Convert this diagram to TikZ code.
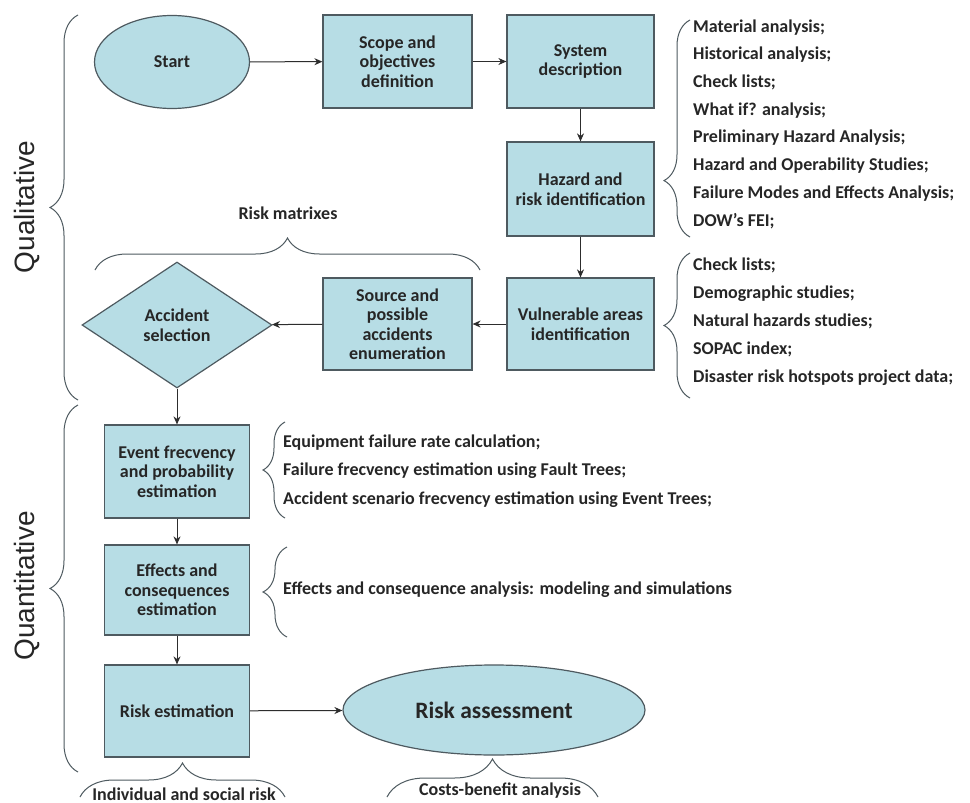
\documentclass[tikz,border=0pt]{standalone}
\usepackage{fontspec}
\setmainfont{Carlito}
\newfontfamily\arialf{Liberation Sans}
\usetikzlibrary{shapes.geometric,arrows.meta,decorations.pathreplacing}
\definecolor{boxfill}{RGB}{183,221,229}
\definecolor{boxline}{RGB}{78,90,96}
\definecolor{arrline}{RGB}{45,45,45}
\definecolor{txt}{RGB}{38,38,38}
\tikzset{
  box/.style={rectangle, draw=boxline, fill=boxfill, line width=1.2pt, align=center, inner sep=2pt, text=txt},
  ell/.style={ellipse, draw=boxline, fill=boxfill, line width=1.2pt, align=center, inner sep=0pt, text=txt},
  dia/.style={diamond, draw=boxline, fill=boxfill, line width=1.2pt, align=center, inner sep=0pt, text=txt},
  arr/.style={draw=arrline, line width=1pt, -{Stealth[length=8pt,width=7pt]}},
  brc/.style={draw=boxline, line width=1pt, decorate},
  lst/.style={anchor=west, align=left, text=txt, inner sep=0pt},
  side/.style={rotate=90, text=txt, font=\arialf\fontsize{28}{30}\selectfont}
}
\begin{document}
\begin{tikzpicture}[x=1pt, y=-1pt, font=\bfseries\fontsize{18}{19.5}\selectfont]
\useasboundingbox[fill=white] (0,0) rectangle (970,803);

% flow nodes
\node[ell, minimum width=155pt, minimum height=93pt] (start) at (172,62) {Start};
\node[box, minimum width=149pt, minimum height=93pt] (scope) at (397.5,61.5) {Scope and\\objectives\\definition};
\node[box, minimum width=147pt, minimum height=93pt] (sys) at (580.5,61.5) {System\\description};
\node[box, minimum width=147pt, minimum height=94pt] (haz) at (580.5,189) {Hazard and\\risk identification};
\node[box, minimum width=147pt, minimum height=92pt] (vul) at (580.5,324) {Vulnerable areas\\identification};
\node[box, minimum width=149pt, minimum height=92pt] (src) at (397.5,324) {Source and\\possible\\accidents\\enumeration};
\node[dia, minimum width=190pt, minimum height=126pt] (acc) at (177,325) {Accident\\selection};
\node[box, minimum width=145pt, minimum height=93pt] (evt) at (177,471.5) {Event frecvency\\and probability\\estimation};
\node[box, minimum width=145pt, minimum height=90pt] (eff) at (177,590) {Effects and\\consequences\\estimation};
\node[box, minimum width=145pt, minimum height=92pt] (rest) at (177,711) {Risk estimation};
\node[ell, minimum width=302pt, minimum height=90pt, font=\bfseries\fontsize{23.5}{28}\selectfont] (rass) at (494,710) {Risk assessment};

% connectors
\draw[arr] (start) -- (scope);
\draw[arr] (scope) -- (sys);
\draw[arr] (sys) -- (haz);
\draw[arr] (haz) -- (vul);
\draw[arr] (vul) -- (src);
\draw[arr] (src) -- (acc);
\draw[arr] (acc) -- (evt);
\draw[arr] (evt) -- (eff);
\draw[arr] (eff) -- (rest);
\draw[arr] (rest) -- (rass);

% side labels and braces
\node[side] (qual) at (27,207) {Qualitative};
\node[side] (quant) at (27,586) {Quantitative};
\draw[brc, decoration={brace, amplitude=28pt}] (78,400) -- (78,15);
\draw[brc, decoration={brace, amplitude=28pt}] (78,772) -- (78,405);

% hazard identification methods
\draw[brc, decoration={brace, amplitude=26pt, aspect=0.26}] (690,237) -- (690,20);
\node[lst, font=\bfseries\fontsize{18}{27.7}\selectfont] (hlist) at (693,124) {Material analysis;\\Historical analysis;\\Check lists;\\What if? analysis;\\Preliminary Hazard Analysis;\\Hazard and Operability Studies;\\Failure Modes and Effects Analysis;\\DOW's FEI;};

% vulnerable areas methods
\draw[brc, decoration={brace, amplitude=26pt}] (690,398) -- (690,253);
\node[lst, font=\bfseries\fontsize{18}{28}\selectfont] (vlist) at (693,322) {Check lists;\\Demographic studies;\\Natural hazards studies;\\SOPAC index;\\Disaster risk hotspots project data;};

% event frequency methods
\draw[brc, decoration={brace, amplitude=22pt}] (285,518) -- (285,422);
\node[lst, font=\bfseries\fontsize{18}{28.5}\selectfont] (elist) at (283,471) {Equipment failure rate calculation;\\Failure frecvency estimation using Fault Trees;\\Accident scenario frecvency estimation using Event Trees;};

% effects methods
\draw[brc, decoration={brace, amplitude=24pt}] (287,637) -- (287,547);
\node[lst] (flist) at (283,590) {Effects and consequence analysis: modeling and simulations};

% risk matrixes
\draw[brc, decoration={brace, amplitude=32pt}] (95,270) -- (480,270);
\node[text=txt] (rm) at (288,213) {Risk matrixes};

% bottom braces
\draw[brc, decoration={brace, amplitude=34pt}] (80,797) -- (285,797);
\node[text=txt] (isr) at (184,794) {Individual and social risk};
\draw[brc, decoration={brace, amplitude=38pt}] (387,797) -- (598,797);
\node[text=txt] (cba) at (500,791) {Costs-benefit analysis};
\end{tikzpicture}
\end{document}
